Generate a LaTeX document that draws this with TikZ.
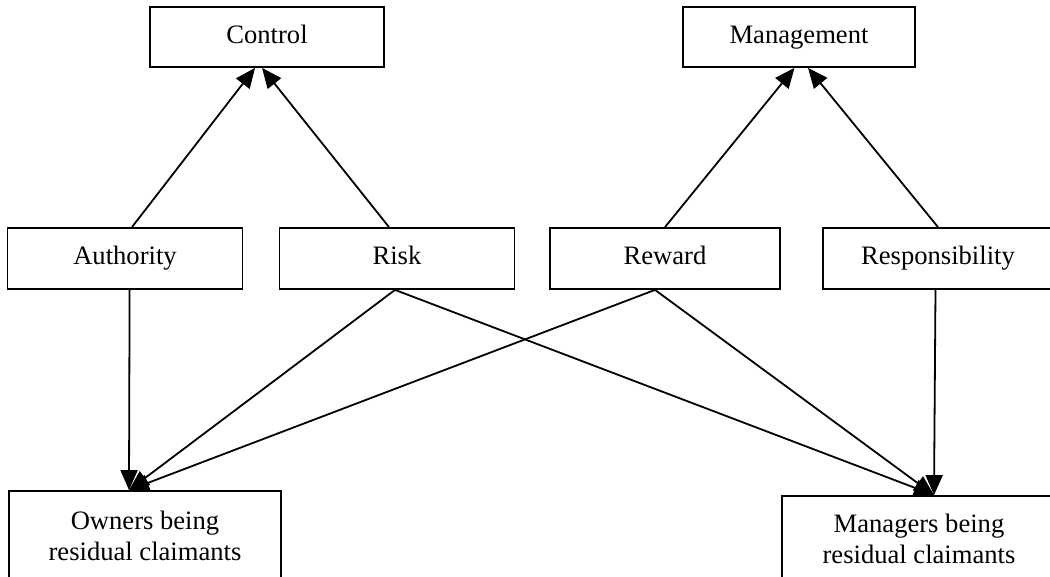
\documentclass[tikz,border=0pt]{standalone}
\usepackage{fontspec}
\setmainfont{Liberation Serif}
\usetikzlibrary{arrows.meta}
\tikzset{
	box/.style={rectangle, draw, line width=0.9pt, inner sep=0pt, minimum height=30.5pt,
		font=\fontsize{13.3}{15.5}\selectfont, align=center},
	word/.style={box, text height=9.5pt, text depth=3pt},
	link/.style={line width=0.9pt, -{Triangle[length=10pt,width=8.5pt]}},
}
\begin{document}
\begin{tikzpicture}[x=0.5pt,y=-0.5pt]
	\useasboundingbox (0,0) rectangle (1050,577);
	\node (Ctrl) at (267, 37)		[word, minimum width=117pt, minimum height=30pt]	{Control};
	\node (Mgmt) at (799, 37)		[word, minimum width=116pt, minimum height=30pt]	{Management};
	\node (Auth) at (125, 258.5)	[word, minimum width=117.5pt]	{Authority};
	\node (Risk) at (397, 258.5)	[word, minimum width=117.5pt]	{Risk};
	\node (Rewd) at (665, 258.5)	[word, minimum width=115pt]	{Reward};
	\node (Resp) at (938, 258.5)	[word, minimum width=115pt]	{Responsibility};
	\node (Own) at (145, 536)		[box, minimum width=136pt, minimum height=45pt]	{Owners being\\residual claimants};
	\node (Mgr) at (919, 539)		[box, minimum width=137pt, minimum height=43pt]	{Managers being\\residual claimants};
	% upper arrows
	\draw[link] ([xshift=3.5pt]Auth.north) -- ([xshift=-6pt]Ctrl.south);
	\draw[link] ([xshift=-4pt]Risk.north) -- ([xshift=-2.5pt]Ctrl.south);
	\draw[link] (Rewd.north) -- ([xshift=-2.25pt]Mgmt.south);
	\draw[link] (Resp.north) -- ([xshift=4.5pt]Mgmt.south);
	% lower arrows
	\draw[link] ([xshift=2.3pt]Auth.south) -- ([xshift=-8pt]Own.north);
	\draw[link] ([xshift=-1pt]Risk.south) -- ([xshift=-8pt]Own.north);
	\draw[link] ([xshift=-5pt]Rewd.south) -- ([xshift=-8pt]Own.north);
	\draw[link] ([xshift=-1pt]Risk.south) -- ([xshift=7.5pt]Mgr.north);
	\draw[link] ([xshift=-5pt]Rewd.south) -- ([xshift=7.5pt]Mgr.north);
	\draw[link] ([xshift=-1.25pt]Resp.south) -- ([xshift=7.5pt]Mgr.north);
\end{tikzpicture}
\end{document}
